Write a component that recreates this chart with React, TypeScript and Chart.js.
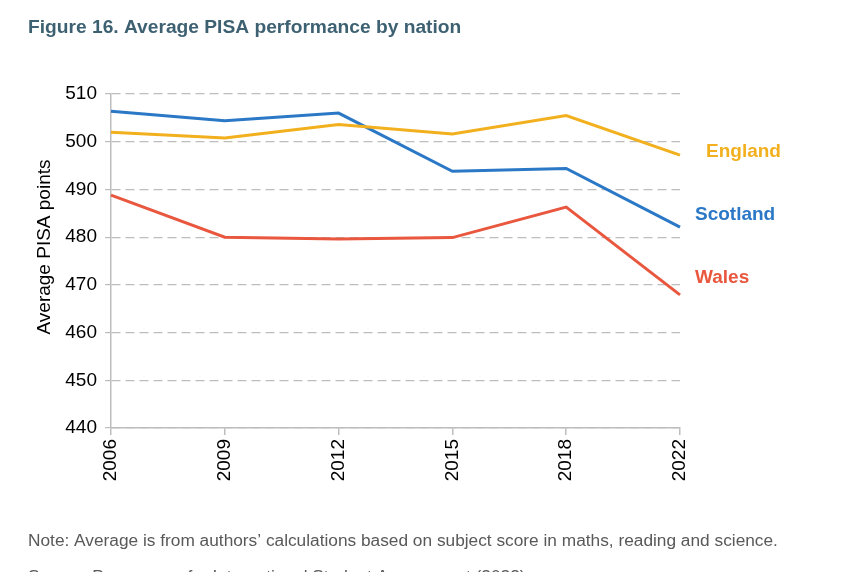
import React, { useEffect, useRef } from "react";
import { Chart, registerables } from "chart.js";

Chart.register(...registerables);

// ---- Data ----
const years = ["2006", "2009", "2012", "2015", "2018", "2022"];
const england = [502.0, 500.8, 503.6, 501.6, 505.5, 497.2];
const scotland = [506.4, 504.4, 506.0, 493.8, 494.4, 482.1];
const wales = [488.8, 480.0, 479.6, 479.9, 486.3, 467.9];

const yMin = 440;
const yMax = 510;
const yStep = 10;

const titleText = "Figure 16. Average PISA performance by nation";
const yTitleText = "Average PISA points";
const noteText =
  "Note: Average is from authors\u2019 calculations based on subject score in maths, reading and science.";
const sourceText = "Source: Programme for International Student Assessment (2022)";

// ---- Styles ----
const FONT = "'Liberation Sans', Arial, sans-serif";
const COL_ENGLAND = "#F2B01E";
const COL_SCOTLAND = "#2A78C6";
const COL_WALES = "#E8573E";
const GRID = "#BDBDBD";

const seriesLabels = [
  { name: "England", color: COL_ENGLAND, dx: 26, dy: 2 },
  { name: "Scotland", color: COL_SCOTLAND, dx: 15, dy: -7 },
  { name: "Wales", color: COL_WALES, dx: 15, dy: -12 },
];

const textPlugin = {
  id: "textPlugin",
  afterDraw(chart: any) {
    const { ctx, chartArea, scales } = chart;
    ctx.save();
    // Title
    ctx.fillStyle = "#3E6172";
    ctx.font = `bold 19.2px ${FONT}`;
    ctx.textAlign = "left";
    ctx.textBaseline = "alphabetic";
    ctx.fillText(titleText, 28, 33);

    // Y axis title
    ctx.save();
    ctx.translate(50, 247);
    ctx.rotate(-Math.PI / 2);
    ctx.fillStyle = "#000";
    ctx.font = `19px ${FONT}`;
    ctx.textAlign = "center";
    ctx.textBaseline = "alphabetic";
    ctx.fillText(yTitleText, 0, 0);
    ctx.restore();

    // Series labels at line ends
    chart.data.datasets.forEach((ds: any, i: number) => {
      const lab = seriesLabels[i];
      const last = ds.data[ds.data.length - 1];
      const y = scales.y.getPixelForValue(last) + lab.dy;
      ctx.fillStyle = lab.color;
      ctx.font = `bold 19px ${FONT}`;
      ctx.textAlign = "left";
      ctx.textBaseline = "alphabetic";
      ctx.fillText(lab.name, chartArea.right + lab.dx, y);
    });

    // Note + source
    ctx.fillStyle = "#595959";
    ctx.font = `17.3px ${FONT}`;
    ctx.textAlign = "left";
    ctx.fillText(noteText, 28, 546);
    ctx.fillText(sourceText, 28, 582);
    ctx.restore();
  },
};

export default function App() {
  const ref = useRef<HTMLCanvasElement | null>(null);

  useEffect(() => {
    if (!ref.current) return;
    const chart = new Chart(ref.current, {
      type: "line",
      data: {
        labels: years,
        datasets: [
          { label: "England", data: england, borderColor: COL_ENGLAND, backgroundColor: COL_ENGLAND },
          { label: "Scotland", data: scotland, borderColor: COL_SCOTLAND, backgroundColor: COL_SCOTLAND },
          { label: "Wales", data: wales, borderColor: COL_WALES, backgroundColor: COL_WALES },
        ].map((d) => ({ ...d, borderWidth: 3, pointRadius: 0, tension: 0, fill: false })),
      },
      options: {
        responsive: false,
        animation: false,
        devicePixelRatio: 1,
        layout: { padding: { left: 51, right: 164, top: 94, bottom: 0 } },
        plugins: {
          legend: { display: false },
          tooltip: { enabled: false },
          title: { display: false },
        },
        scales: {
          x: {
            type: "category",
            offset: false,
            afterFit: (s: any) => {
              s.height = 144;
            },
            grid: {
              drawOnChartArea: false,
              color: GRID,
              tickLength: 7,
              lineWidth: 1.5,
            },
            border: { color: GRID, width: 1.5 },
            ticks: {
              color: "#000",
              font: { family: FONT, size: 19 },
              minRotation: 90,
              maxRotation: 90,
              autoSkip: false,
              padding: 4,
            },
          },
          y: {
            min: yMin,
            max: yMax,
            afterFit: (s: any) => {
              s.width = 60;
            },
            grid: {
              color: GRID,
              tickLength: 6,
              lineWidth: 1.2,
            },
            border: { color: GRID, width: 1.5, dash: [9, 5] },
            ticks: {
              stepSize: yStep,
              color: "#000",
              font: { family: FONT, size: 19 },
              padding: 8,
            },
          },
        },
      },
      plugins: [textPlugin],
    } as any);
    return () => chart.destroy();
  }, []);

  return (
    <div
      style={{
        position: "absolute",
        left: 0,
        top: 0,
        width: 844,
        height: 572,
        overflow: "hidden",
        background: "#fff",
      }}
    >
      <canvas ref={ref} width={844} height={572} style={{ width: 844, height: 572, display: "block" }} />
    </div>
  );
}
